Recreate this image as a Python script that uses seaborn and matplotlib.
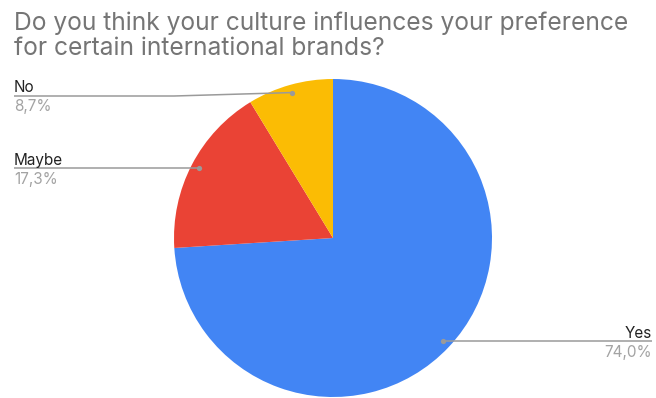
import numpy as np
import matplotlib
matplotlib.use("Agg")
import matplotlib.pyplot as plt
import seaborn as sns

# Survey answers, drawn clockwise from twelve o'clock
categories = ["Yes", "Maybe", "No"]
shares = [74.0, 17.3, 8.7]
pct_labels = ["74,0%", "17,3%", "8,7%"]
colors = ["#4285F4", "#EA4335", "#FBBC04"]
title_lines = [
    "Do you think your culture influences your preference",
    "for certain international brands?",
]

sns.set_theme(style="white")
plt.rcParams["font.family"] = ["Inter", "Liberation Sans", "DejaVu Sans"]

W, H = 656, 398
fig = plt.figure(figsize=(W / 100, H / 100), dpi=100)
ax = fig.add_axes([0, 0, 1, 1])

# Pie placed in pixel-sized data units (y measured upward)
cx, cy, r = 333, H - 238, 159
wedges, _ = ax.pie(
    shares, colors=colors, startangle=90, counterclock=False,
    center=(cx, cy), radius=r, wedgeprops=dict(linewidth=0),
)
ax.set_xlim(0, W)
ax.set_ylim(0, H)
ax.set_aspect("equal")
ax.axis("off")

line_col = "#9a9a9a"
name_col = "#222222"
pct_col = "#a3a3a3"
left_x, right_x = 14, 652
max_label_y = H - 96  # keep left labels clear of the title

for w, name, pct in zip(wedges, categories, pct_labels):
    mid = np.deg2rad((w.theta1 + w.theta2) / 2)
    dx, dy = cx + 0.95 * r * np.cos(mid), cy + 0.95 * r * np.sin(mid)
    if np.cos(mid) < 0:
        ly = min(dy, max_label_y)
        bend_x = cx - r
        xs = [left_x, bend_x, dx] if ly != dy else [left_x, dx]
        ys = [ly, ly, dy] if ly != dy else [ly, dy]
        tx, ha = left_x, "left"
    else:
        ly = dy
        xs, ys = [dx, right_x], [dy, ly]
        tx, ha = right_x, "right"
    ax.plot(xs, ys, color=line_col, lw=1.1, solid_capstyle="butt", zorder=3)
    ax.plot([dx], [dy], "o", color=line_col, ms=3.8, mec="none", zorder=4)
    ax.text(tx, ly + 3.5, name, ha=ha, va="baseline", fontsize=11, color=name_col)
    ax.text(tx, ly - 3.5, pct, ha=ha, va="top", fontsize=11, color=pct_col)

for i, line in enumerate(title_lines):
    fig.text(14 / W, 1 - (30.2 + 25 * i) / H, line, ha="left", va="baseline",
             fontsize=17.7, color="#757575")

fig.savefig("out.png", dpi=100, facecolor="white")
